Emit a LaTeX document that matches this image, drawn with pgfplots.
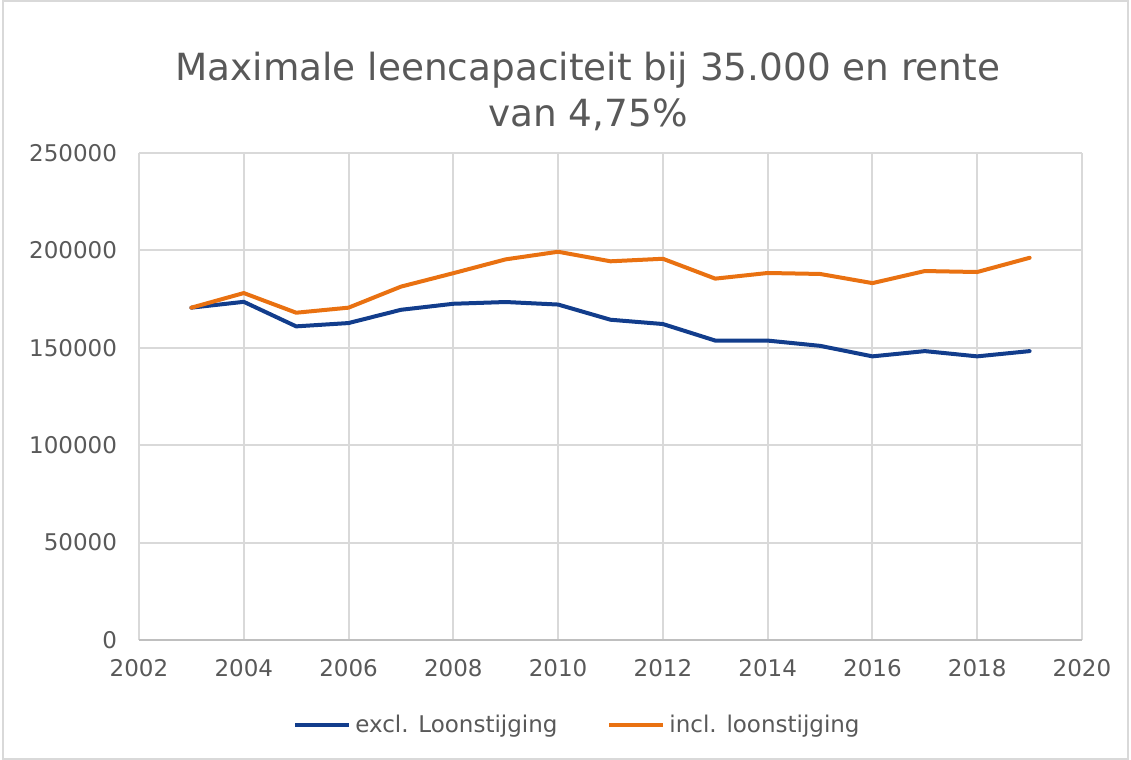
\documentclass[border=0pt]{standalone}
\usepackage{fontspec}
\setmainfont{DejaVu Sans}
\usepackage{pgfplots}
\pgfplotsset{compat=1.18}
\definecolor{excl}{RGB}{18,61,140}
\definecolor{incl}{RGB}{233,113,17}
\definecolor{txt}{RGB}{89,89,89}
\definecolor{gridc}{RGB}{217,217,217}
\definecolor{axisc}{RGB}{191,191,191}

\begin{document}
\begin{tikzpicture}
  % chart area, 1px = 0.5pt
  \path[use as bounding box] (0,0) rectangle (565.5pt,380pt);
  \draw[gridc, line width=0.6pt] (1.5pt,0.5pt) rectangle (564pt,379.5pt);
  \begin{axis}[
    at={(69.5pt,60pt)}, anchor=south west,
    scale only axis, width=471.5pt, height=243.5pt,
    xmin=2002, xmax=2020, ymin=0, ymax=250000,
    xtick={2002,2004,...,2020},
    xticklabels={2002,2004,2006,2008,2010,2012,2014,2016,2018,2020},
    ytick={0,50000,100000,150000,200000,250000},
    yticklabels={0,50000,100000,150000,200000,250000},
    scaled y ticks=false,
    grid=major,
    grid style={gridc, line width=1pt},
    major tick length=0pt,
    axis x line*=bottom, axis y line*=left,
    x axis line style={axisc, line width=1pt, -},
    y axis line style={draw=none},
    tick label style={font=\fontsize{11.5}{13}\selectfont, text=txt},
    y tick label style={xshift=-7.5pt},
    x tick label style={yshift=-6pt},
    title={Maximale leencapaciteit bij 35.000 en rente\\van 4,75\%},
    title style={at={(0.476,1)}, anchor=south, yshift=5pt, inner sep=0pt,
      align=center, font=\fontsize{18.7}{23}\selectfont, text=txt},
    legend columns=2,
    legend style={at={(0.466,-0.1745)}, anchor=center, draw=none,
      font=\fontsize{11.5}{13}\selectfont, text=txt,
      /tikz/every even column/.append style={column sep=23pt}},
    legend image code/.code={\draw[#1, line cap=butt] (0pt,0pt) -- (27pt,0pt);},
    every axis plot/.append style={line width=2pt, line join=round, line cap=round},
  ]
    \addplot[excl] coordinates {
      (2003,170600) (2004,173600) (2005,161000) (2006,162700) (2007,169500)
      (2008,172600) (2009,173500) (2010,172200) (2011,164400) (2012,162200)
      (2013,153700) (2014,153700) (2015,151000) (2016,145600) (2017,148300)
      (2018,145600) (2019,148300)
    };
    \addlegendentry{excl. Loonstijging}
    \addplot[incl] coordinates {
      (2003,170600) (2004,178100) (2005,168000) (2006,170600) (2007,181400)
      (2008,188300) (2009,195400) (2010,199300) (2011,194400) (2012,195700)
      (2013,185500) (2014,188400) (2015,187900) (2016,183200) (2017,189400)
      (2018,188900) (2019,196200)
    };
    \addlegendentry{incl. loonstijging}
  \end{axis}
\end{tikzpicture}
\end{document}
